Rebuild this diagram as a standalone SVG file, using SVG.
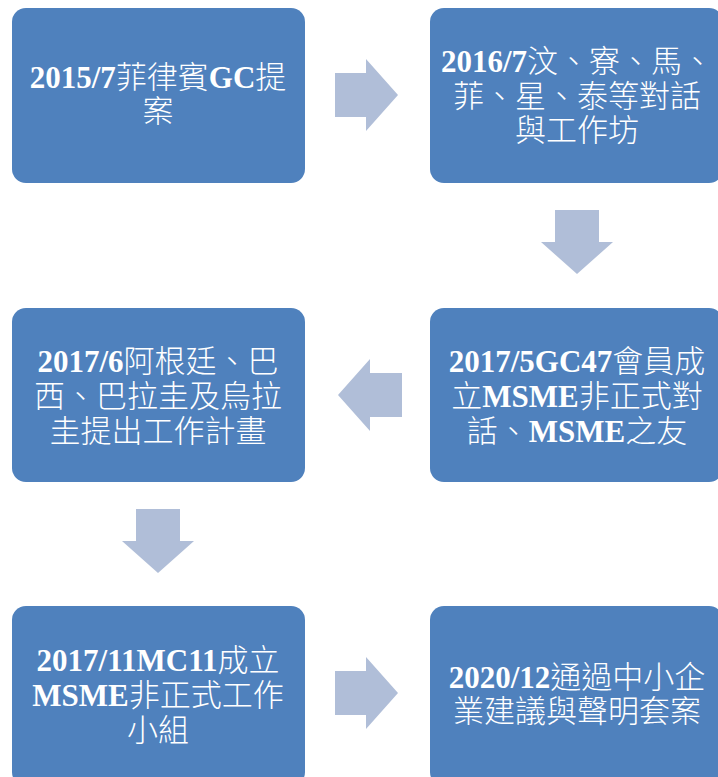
<svg xmlns="http://www.w3.org/2000/svg" width="718" height="777" viewBox="0 0 718 777">
<style>
.box{fill:#4F81BD;}
.arr{fill:#B0BED8;}
text{font-family:"Liberation Serif","Noto Sans CJK TC",serif;font-size:31px;font-weight:300;fill:#FFFFFF;text-anchor:middle;}
.b{font-weight:bold;}
</style>
<rect width="718" height="777" fill="#FFFFFF"/>
<g id="connectors">
<polygon class="arr" points="335,73 366,73 366,59 398,95 366,131 366,117 335,117"/>
<polygon class="arr" points="555,210 599,210 599,242 613,242 577,274 541,242 555,242"/>
<polygon class="arr" points="402,373 370,373 370,359 338,395 370,431 370,417 402,417"/>
<polygon class="arr" points="136,509 180,509 180,541 194,541 158,573 122,541 136,541"/>
<polygon class="arr" points="335,671 366,671 366,657 398,693 366,729 366,715 335,715"/>
</g>
<g id="n1">
<rect class="box" x="12" y="8" width="293" height="175" rx="14"/>
<text x="158" y="88"><tspan class="b">2015/7</tspan>菲律賓<tspan class="b">GC</tspan>提</text>
<text x="158" y="122">案</text>
</g>
<g id="n2">
<rect class="box" x="430" y="8" width="293" height="175" rx="14"/>
<text x="577" y="72"><tspan class="b">2016/7</tspan>汶、寮、馬、</text>
<text x="577" y="107">菲、星、泰等對話</text>
<text x="577" y="141">與工作坊</text>
</g>
<g id="n3">
<rect class="box" x="12" y="308" width="293" height="174" rx="14"/>
<text x="158" y="372"><tspan class="b">2017/6</tspan>阿根廷、巴</text>
<text x="158" y="407">西、巴拉圭及烏拉</text>
<text x="158" y="442">圭提出工作計畫</text>
</g>
<g id="n4">
<rect class="box" x="430" y="308" width="293" height="174" rx="14"/>
<text x="577" y="372"><tspan class="b">2017/5GC47</tspan>會員成</text>
<text x="577" y="407">立<tspan class="b">MSME</tspan>非正式對</text>
<text x="577" y="442">話、<tspan class="b">MSME</tspan>之友</text>
</g>
<g id="n5">
<rect class="box" x="12" y="606" width="293" height="180" rx="14"/>
<text x="158" y="671"><tspan class="b">2017/11MC11</tspan>成立</text>
<text x="158" y="706"><tspan class="b">MSME</tspan>非正式工作</text>
<text x="158" y="741">小組</text>
</g>
<g id="n6">
<rect class="box" x="430" y="606" width="293" height="180" rx="14"/>
<text x="577" y="688"><tspan class="b">2020/12</tspan>通過中小企</text>
<text x="577" y="722">業建議與聲明套案</text>
</g>
</svg>
